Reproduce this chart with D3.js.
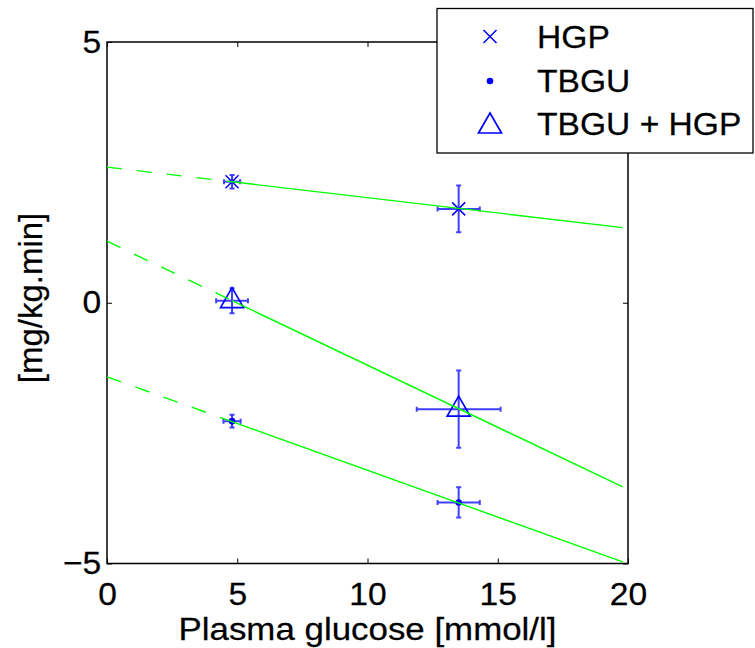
<!DOCTYPE html>
<html><head><meta charset="utf-8">
<script src="https://cdn.jsdelivr.net/npm/d3@7"></script>
<style>body{margin:0;background:#fff}svg{display:block}</style>
</head><body><svg id="c" width="755" height="648"></svg>
<script>
// ---- data ----
const seriesNames = ["HGP", "TBGU", "TBGU + HGP"];
const glucose = [4.8, 13.5];
const hgpY = [2.32, 1.80];
const hgpYErr = [0.13, 0.45];
const hgpXErr = [0.31, 0.81];
const tbguY = [-2.27, -3.83];
const tbguYErr = [0.12, 0.29];
const tbguXErr = [0.33, 0.81];
const sumY = [0.04, -2.04];
const sumYErr = [0.24, 0.74];
const sumXErr = [0.61, 1.61];
// regression lines: y at x = 0, 4.8 (dashed up to here), 19.8
const fitX = [0, 4.8, 19.8];
const hgpFit = [2.60, 2.32, 1.44];
const tbguFit = [-1.42, -2.28, -4.97];
const sumFit = [1.18, 0.04, -3.53];
const xTicks = [0, 5, 10, 15, 20];
const yTicks = [-5, 0, 5];
const xLabel = "Plasma glucose [mmol/l]";
const yLabel = "[mg/kg.min]";

// ---- layout ----
const L = 107, R = 628, T = 42, B = 563.5;
const FONT = "'Liberation Sans', Arial, Helvetica, sans-serif";
const FS = "32px";
const STRETCH = 1.05;
const svg = d3.select("#c");
const x = d3.scaleLinear().domain([0, 20]).range([L, R]);
const y = d3.scaleLinear().domain([-5, 5]).range([B, T]);

function textStyle(sel) {
  return sel.attr("fill", "#000").attr("stroke", "#000").attr("stroke-width", 0.25)
    .style("font-family", FONT).style("font-size", FS);
}

// axes
function styleAxis(g, showText) {
  g.select(".domain").remove();
  g.selectAll(".tick line").attr("stroke", "#000").attr("stroke-width", 1);
  textStyle(g.selectAll(".tick text")).attr("transform", `scale(${STRETCH},1)`);
  if (!showText) g.selectAll(".tick text").remove();
}
svg.append("g").attr("transform", `translate(0,${B})`)
  .call(d3.axisBottom(x).tickValues(xTicks).tickSizeInner(-5).tickSizeOuter(0).tickPadding(19))
  .call(g => styleAxis(g, true));
svg.append("g").attr("transform", `translate(0,${T})`)
  .call(d3.axisTop(x).tickValues(xTicks).tickSizeInner(-5).tickSizeOuter(0))
  .call(g => styleAxis(g, false));
svg.append("g").attr("transform", `translate(${L},0)`)
  .call(d3.axisLeft(y).tickValues(yTicks).tickSizeInner(-5).tickSizeOuter(0).tickPadding(5.5))
  .call(g => styleAxis(g, true));
svg.append("g").attr("transform", `translate(${R},0)`)
  .call(d3.axisRight(y).tickValues(yTicks).tickSizeInner(-5).tickSizeOuter(0))
  .call(g => styleAxis(g, false));

svg.append("rect").attr("x", L).attr("y", T).attr("width", R - L).attr("height", B - T)
  .attr("fill", "none").attr("stroke", "#000").attr("stroke-width", 1.5);

// labels
textStyle(svg.append("text").attr("transform", `translate(${(L + R) / 2},640) scale(1.09,1)`)
  .attr("text-anchor", "middle")).text(xLabel);
textStyle(svg.append("text").attr("transform", `translate(42,298) rotate(-90)`)
  .attr("text-anchor", "middle")).style("font-size", "33px").text(yLabel);

// error bars
const EB = "#4040ff";
const series = [
  { name: seriesNames[0], y: hgpY, ye: hgpYErr, xe: hgpXErr, marker: "x", fit: hgpFit },
  { name: seriesNames[1], y: tbguY, ye: tbguYErr, xe: tbguXErr, marker: "dot", fit: tbguFit },
  { name: seriesNames[2], y: sumY, ye: sumYErr, xe: sumXErr, marker: "tri", fit: sumFit }
];
const gEb = svg.append("g").attr("stroke", EB).attr("stroke-width", 2).attr("fill", "none");
const cap = 2.5;
series.forEach(s => {
  glucose.forEach((gx, i) => {
    const cx = x(gx), cy = y(s.y[i]);
    const y0 = y(s.y[i] - s.ye[i]), y1 = y(s.y[i] + s.ye[i]);
    const x0 = x(gx - s.xe[i]), x1 = x(gx + s.xe[i]);
    gEb.append("path").attr("d",
      `M${cx},${y0}V${y1}M${cx - cap},${y0}H${cx + cap}M${cx - cap},${y1}H${cx + cap}` +
      `M${x0},${cy}H${x1}M${x0},${cy - cap}V${cy + cap}M${x1},${cy - cap}V${cy + cap}`);
  });
});

// markers
function drawMarker(g, type, cx, cy) {
  if (type === "x") {
    const h = 6.5;
    g.append("path").attr("d", `M${cx - h},${cy - h}L${cx + h},${cy + h}M${cx - h},${cy + h}L${cx + h},${cy - h}`)
      .attr("stroke", "#0000ff").attr("stroke-width", 1.5).attr("fill", "none");
  } else if (type === "dot") {
    g.append("circle").attr("cx", cx).attr("cy", cy).attr("r", 3.3).attr("fill", "#0000ff");
  } else {
    g.append("path").attr("d", `M${cx},${cy - 13}L${cx + 11.5},${cy + 7}L${cx - 11.5},${cy + 7}Z`)
      .attr("stroke", "#0000ff").attr("stroke-width", 1.7).attr("fill", "none");
  }
}
const gM = svg.append("g");
series.forEach(s => glucose.forEach((gx, i) => drawMarker(gM, s.marker, x(gx), y(s.y[i]))));

// regression lines
const gL = svg.append("g").attr("stroke", "#00ff00").attr("stroke-width", 1.4).attr("fill", "none");
series.forEach(s => {
  gL.append("line").attr("x1", x(fitX[0])).attr("y1", y(s.fit[0]))
    .attr("x2", x(fitX[1])).attr("y2", y(s.fit[1])).attr("stroke-dasharray", "15,15");
  gL.append("line").attr("x1", x(fitX[1])).attr("y1", y(s.fit[1]))
    .attr("x2", x(fitX[2])).attr("y2", y(s.fit[2]));
});

// legend
const lg = svg.append("g");
lg.append("rect").attr("x", 437).attr("y", 8.5).attr("width", 316).attr("height", 144.5)
  .attr("fill", "#fff").attr("stroke", "#000").attr("stroke-width", 1.3);
const legRows = [36.5, 81, 124];
series.forEach((s, i) => {
  drawMarker(lg, s.marker, 490, legRows[i] + (s.marker === "tri" ? 2 : 0));
  textStyle(lg.append("text").attr("transform", `translate(537,${legRows[i] + 11}) scale(${STRETCH},1)`))
    .text(s.name);
});
</script></body></html>
